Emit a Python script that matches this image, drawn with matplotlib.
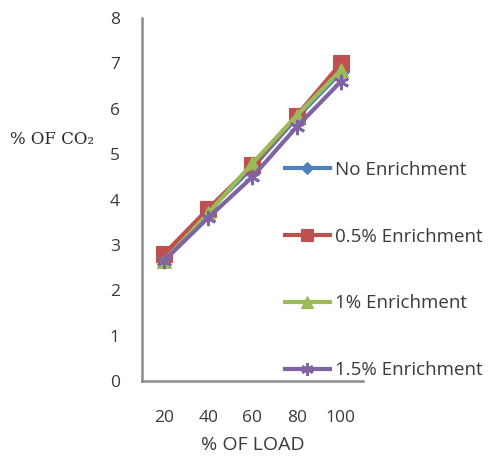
import matplotlib
matplotlib.use("Agg")
import matplotlib.pyplot as plt

load = [20, 40, 60, 80, 100]
series_names = ["No Enrichment", "0.5% Enrichment", "1% Enrichment", "1.5% Enrichment"]
no_enrichment = [2.7, 3.75, 4.7, 5.8, 6.8]
enrich_05 = [2.8, 3.8, 4.75, 5.85, 7.0]
enrich_1 = [2.65, 3.7, 4.8, 5.85, 6.85]
enrich_15 = [2.65, 3.6, 4.5, 5.6, 6.6]
y_ticks = [0, 1, 2, 3, 4, 5, 6, 7, 8]

colors = ["#4F81BD", "#C0504D", "#9BBB59", "#8064A2"]
markers = ["D", "s", "^", (6, 2, 0)]
msizes = [8, 11, 10, 11]

sans = ["Open Sans", "DejaVu Sans"]
text_color = "#3A3A3A"

fig = plt.figure(figsize=(4.89, 4.63), dpi=100)
ax = fig.add_axes([142 / 489, 1 - 381 / 463, (363 - 142) / 489, (381 - 18) / 463])

idx = list(range(len(load)))
for vals, name, c, m, ms in zip([no_enrichment, enrich_05, enrich_1, enrich_15],
                                series_names, colors, markers, msizes):
    ax.plot(idx, vals, color=c, marker=m, markersize=ms, linewidth=3.0,
            markeredgewidth=2.0 if m == (6, 2, 0) else 0.8,
            markeredgecolor=c, markerfacecolor=c, label=name, clip_on=False)

ax.set_xlim(-0.5, len(load) - 0.5)
ax.set_ylim(0, 8)
ax.set_yticks(y_ticks)
ax.set_xticks(idx)
ax.set_xticklabels([str(v) for v in load])
for lab in ax.get_xticklabels() + ax.get_yticklabels():
    lab.set_family(sans)
    lab.set_fontsize(12.5)
    lab.set_color(text_color)
ax.tick_params(axis="both", length=0)
ax.tick_params(axis="x", pad=21)
ax.tick_params(axis="y", pad=16)

for s in ["top", "right"]:
    ax.spines[s].set_visible(False)
for s in ["left", "bottom"]:
    ax.spines[s].set_color("#8C8C8C")
    ax.spines[s].set_linewidth(1.8)

ax.set_xlabel("% OF LOAD", family=sans, fontsize=14, color=text_color, labelpad=7)
fig.text(10 / 489, 1 - 139 / 463, "% OF CO\u2082", family=["DejaVu Serif"],
         fontsize=12, color="#2A2A2A", va="center", ha="left")

leg = fig.legend(loc="upper left", bbox_to_anchor=(285 / 489, 1 - 161 / 463),
                 frameon=False, prop={"family": sans, "size": 13.5},
                 labelspacing=2.6, handlelength=2.4, handletextpad=0.25,
                 markerscale=0.8, borderaxespad=0, borderpad=0)
for t in leg.get_texts():
    t.set_color(text_color)

fig.savefig("out.png", dpi=100)
